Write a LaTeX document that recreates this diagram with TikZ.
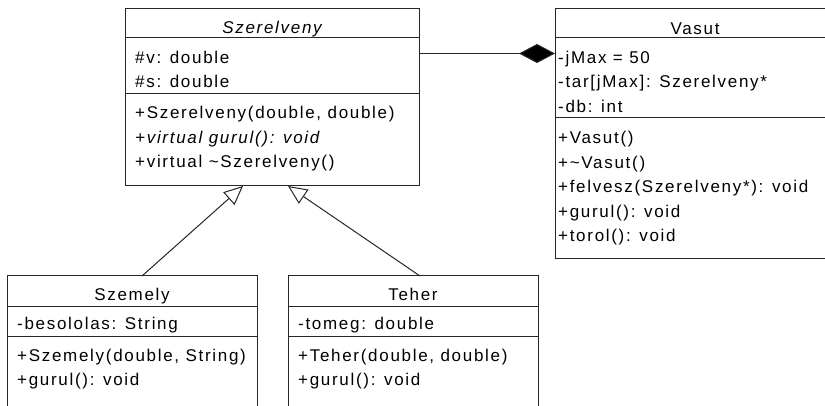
\documentclass[tikz,border=0pt]{standalone}
\usepackage{fontspec}
\setmainfont{Liberation Sans}[LetterSpace=10]
\usetikzlibrary{arrows.meta,calc}
\begin{document}
\begin{tikzpicture}[x=1pt,y=-1pt,
  umlbox/.style={draw=black!85, line width=1pt, fill=white, inner sep=0pt, outer sep=0pt, anchor=north west},
  sepline/.style={draw=black!85, line width=1pt},
  txt/.style={anchor=base west, inner sep=0pt, font=\fontsize{17}{20}\selectfont},
  hdr/.style={anchor=base, inner sep=0pt, font=\fontsize{17}{20}\selectfont},
  inh/.style={draw=black!85, line width=1pt, -{Triangle[open, length=19pt, width=17pt, fill=white]}},
  comp/.style={draw=black!85, line width=1pt, -{Diamond[length=36pt, width=19pt, fill=black]}}]
\useasboundingbox (0,0) rectangle (825,406);
\clip (0,0) rectangle (825,406);
\fill[white] (0,0) rectangle (825,406);

% Szerelveny
\node[umlbox, minimum width=294pt, minimum height=177pt] (szer) at (125,9) {};
\draw[sepline] (125,38) -- (419,38);
\draw[sepline] (125,94) -- (419,94);
\node[hdr] (szerN) at (272,34) {\itshape Szerelveny};
\node[txt] (szerA1) at (135,63.5) {\#v: double};
\node[txt] (szerA2) at (135,88) {\#s: double};
\node[txt] (szerM1) at (135,119) {+Szerelveny(double, double)};
\node[txt] (szerM2) at (135,143.5) {\itshape +virtual gurul(): void};
\node[txt] (szerM3) at (135,168) {+virtual \textasciitilde Szerelveny()};

% Vasut
\node[umlbox, minimum width=280pt, minimum height=250pt] (vas) at (555,9) {};
\draw[sepline] (555,38) -- (835,38);
\draw[sepline] (555,118) -- (835,118);
\node[hdr] (vasN) at (695,35) {Vasut};
\node[txt] (vasA1) at (558,63.5) {-jMax = 50};
\node[txt] (vasA2) at (558,88) {-tar[jMax]: Szerelveny*};
\node[txt] (vasA3) at (558,112.5) {-db: int};
\node[txt] (vasM1) at (558,144) {+Vasut()};
\node[txt] (vasM2) at (558,168.5) {+\textasciitilde Vasut()};
\node[txt] (vasM3) at (558,193) {+felvesz(Szerelveny*): void};
\node[txt] (vasM4) at (558,217.5) {+gurul(): void};
\node[txt] (vasM5) at (558,242) {+torol(): void};

% Szemely
\node[umlbox, minimum width=250pt, minimum height=150pt] (szem) at (7,276) {};
\draw[sepline] (7,306) -- (257,306);
\draw[sepline] (7,336) -- (257,336);
\node[hdr] (szemN) at (132,300) {Szemely};
\node[txt] (szemA1) at (17,330) {-besololas: String};
\node[txt] (szemM1) at (17,361) {+Szemely(double, String)};
\node[txt] (szemM2) at (17,385.5) {+gurul(): void};

% Teher
\node[umlbox, minimum width=250pt, minimum height=150pt] (teh) at (288,276) {};
\draw[sepline] (288,306) -- (538,306);
\draw[sepline] (288,336) -- (538,336);
\node[hdr] (tehN) at (413,300) {Teher};
\node[txt] (tehA1) at (298,330) {-tomeg: double};
\node[txt] (tehM1) at (298,361) {+Teher(double, double)};
\node[txt] (tehM2) at (298,385.5) {+gurul(): void};

% connectors
\coordinate (cy) at (0,53.5);
\draw[comp] (szer.east |- cy) -- (vas.west |- cy);
\draw[inh] ($(szem.north west)+(135,0)$) -- ($(szer.south west)+(118,0)$);
\draw[inh] ($(teh.north west)+(132,0)$) -- ($(szer.south west)+(163,0)$);
\end{tikzpicture}
\end{document}
